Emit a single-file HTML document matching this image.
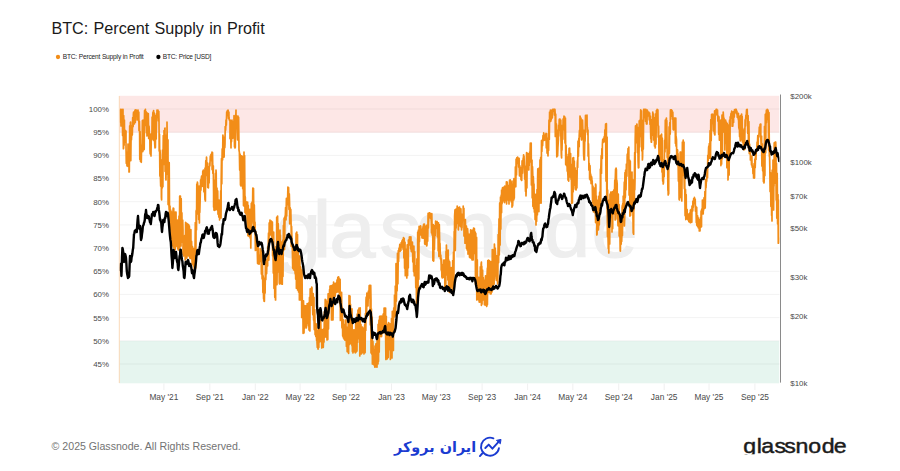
<!DOCTYPE html>
<html lang="en"><head><meta charset="utf-8"><title>BTC: Percent Supply in Profit</title>
<style>
html,body{margin:0;padding:0;background:#fff;}
body{width:900px;height:471px;position:relative;overflow:hidden;font-family:"Liberation Sans",sans-serif;}
svg{position:absolute;left:0;top:0;}
.ib{position:absolute;left:376.2px;top:432px;width:100px;text-align:right;font-family:"DejaVu Sans","Liberation Sans",sans-serif;font-weight:bold;font-size:14.4px;color:#1a3bd1;white-space:nowrap;line-height:30px;height:30px;direction:rtl;}
</style></head><body>
<svg width="900" height="471" viewBox="0 0 900 471" font-family="Liberation Sans, sans-serif">
<rect x="119" y="95.8" width="660.2" height="36.8" fill="#fde7e6"/>
<rect x="119" y="341" width="660.2" height="42.3" fill="#e6f5ef"/>
<g stroke="#000" stroke-opacity="0.06" stroke-width="0.9"><line x1="119" x2="779.5" y1="364.0" y2="364.0"/><line x1="119" x2="779.5" y1="340.8" y2="340.8"/><line x1="119" x2="779.5" y1="317.6" y2="317.6"/><line x1="119" x2="779.5" y1="294.4" y2="294.4"/><line x1="119" x2="779.5" y1="271.3" y2="271.3"/><line x1="119" x2="779.5" y1="248.1" y2="248.1"/><line x1="119" x2="779.5" y1="224.9" y2="224.9"/><line x1="119" x2="779.5" y1="201.7" y2="201.7"/><line x1="119" x2="779.5" y1="178.5" y2="178.5"/><line x1="119" x2="779.5" y1="155.4" y2="155.4"/><line x1="119" x2="779.5" y1="132.2" y2="132.2"/><line x1="119" x2="779.5" y1="109.0" y2="109.0"/></g>
<text transform="scale(1.04,1)" x="264.2 300.7 316.7 365.0 400.3 433.7 474.7 523.0 568.8" y="256.6" font-size="80" fill="#eeeeee" stroke="#eeeeee" stroke-width="1.2">glassnode</text>
<clipPath id="c"><rect x="119" y="96" width="660.4" height="287"/></clipPath>
<g clip-path="url(#c)" fill="none" stroke-linejoin="round" stroke-linecap="round">
<path d="M120.0 111.0 L120.0 110.0 L120.4 122.2 L120.7 109.3 L121.0 126.0 L121.1 126.0 L121.5 109.6 L121.6 112.0 L121.9 125.3 L122.2 109.5 L122.4 110.0 L122.6 135.5 L123.0 109.4 L123.0 118.0 L123.4 148.7 L123.6 148.0 L123.7 115.7 L124.1 145.3 L124.4 120.0 L124.5 131.0 L124.8 141.5 L125.0 130.0 L125.2 134.7 L125.6 142.3 L126.0 131.0 L126.0 146.0 L126.3 163.3 L126.7 152.1 L127.0 166.0 L127.1 154.1 L127.5 152.3 L127.8 166.3 L128.0 144.0 L128.2 148.7 L128.6 158.0 L129.0 162.0 L129.0 172.0 L129.3 171.9 L129.7 125.8 L130.0 160.0 L130.1 158.8 L130.4 122.6 L130.6 122.0 L130.8 160.6 L131.2 125.5 L131.4 140.0 L131.6 135.4 L131.9 125.8 L132.3 135.1 L132.4 130.0 L132.7 117.6 L133.1 126.7 L133.4 114.1 L133.6 112.0 L133.8 123.8 L134.2 116.6 L134.4 124.0 L134.5 120.0 L134.9 110.8 L135.2 110.0 L135.3 122.5 L135.7 110.2 L136.0 116.0 L136.4 110.0 L136.4 111.9 L136.8 114.2 L137.2 111.2 L137.2 120.0 L137.5 117.5 L137.9 110.4 L138.0 110.0 L138.3 114.5 L138.7 121.1 L138.8 112.0 L139.0 130.5 L139.4 121.3 L139.6 130.0 L139.8 159.3 L140.1 131.5 L140.4 158.0 L140.5 161.4 L140.9 145.1 L141.2 162.0 L141.3 162.3 L141.6 145.6 L142.0 152.0 L142.0 150.5 L142.4 120.5 L142.8 151.5 L143.0 120.0 L143.1 126.4 L143.5 149.7 L143.6 150.0 L143.9 130.7 L144.2 149.3 L144.4 120.0 L144.6 110.5 L145.0 125.4 L145.2 110.0 L145.4 109.3 L145.7 123.7 L146.0 112.0 L146.1 111.8 L146.5 133.0 L146.9 112.5 L147.0 136.0 L147.2 134.0 L147.6 120.1 L148.0 133.7 L148.0 114.0 L148.3 113.6 L148.7 138.5 L149.0 126.0 L149.1 127.0 L149.5 136.0 L149.8 134.4 L150.0 150.0 L150.2 153.9 L150.6 152.6 L151.0 155.0 L151.0 156.0 L151.3 133.7 L151.7 140.2 L152.0 130.0 L152.1 117.1 L152.5 139.1 L152.8 113.8 L153.0 112.0 L153.2 124.6 L153.6 110.5 L153.9 140.5 L154.0 114.0 L154.3 113.1 L154.7 143.8 L155.0 148.0 L155.1 140.1 L155.4 147.6 L155.8 115.3 L156.0 120.0 L156.2 139.1 L156.6 113.7 L156.9 117.0 L157.0 110.0 L157.3 110.4 L157.7 115.3 L158.0 111.0 L158.0 110.2 L158.4 120.9 L158.8 111.3 L159.0 120.0 L159.2 151.1 L159.5 134.2 L159.9 176.0 L160.0 150.0 L160.3 154.5 L160.4 176.0 L160.7 186.2 L161.0 166.9 L161.2 160.0 L161.4 197.5 L161.6 200.0 L161.8 162.4 L162.0 188.0 L162.1 188.0 L162.5 150.2 L162.9 186.6 L163.0 160.0 L163.3 135.5 L163.6 164.5 L164.0 136.0 L164.0 130.6 L164.4 140.2 L164.8 128.6 L165.0 128.0 L165.1 171.3 L165.5 137.5 L165.9 179.6 L166.0 180.0 L166.3 135.2 L166.6 174.2 L167.0 132.2 L167.0 122.0 L167.4 154.2 L167.7 139.7 L168.0 140.0 L168.1 204.5 L168.5 162.2 L168.6 180.0 L168.7 190.0 L168.9 204.3 L169.2 210.0 L169.2 162.5 L169.6 224.9 L170.0 206.3 L170.0 206.0 L170.4 227.7 L170.4 230.0 L170.7 210.0 L171.1 242.3 L171.5 214.4 L171.6 212.0 L171.8 244.0 L172.0 246.0 L172.2 212.0 L172.6 239.1 L173.0 210.8 L173.2 208.0 L173.3 240.3 L173.6 248.0 L173.7 208.4 L174.1 239.5 L174.4 216.0 L174.5 233.1 L174.8 247.1 L175.2 250.0 L175.2 212.1 L175.6 222.9 L176.0 222.6 L176.0 212.0 L176.3 245.8 L176.7 226.7 L176.8 246.0 L177.1 246.6 L177.4 225.7 L177.6 220.0 L177.8 248.7 L178.2 229.2 L178.4 250.0 L178.6 231.5 L178.9 221.1 L179.0 216.0 L179.3 246.8 L179.7 196.2 L179.8 248.0 L180.1 219.6 L180.4 196.0 L180.4 196.2 L180.8 231.9 L181.0 246.0 L181.2 198.6 L181.5 242.2 L181.6 214.0 L181.9 212.8 L182.2 238.0 L182.3 236.3 L182.7 220.0 L183.0 230.0 L183.0 254.1 L183.4 237.6 L183.6 256.0 L183.8 254.6 L184.2 235.8 L184.4 236.0 L184.5 254.0 L184.9 235.3 L185.2 260.0 L185.3 256.0 L185.6 222.3 L186.0 223.0 L186.0 248.8 L186.4 237.8 L186.8 258.1 L186.8 258.0 L187.1 223.7 L187.5 251.4 L187.6 224.0 L187.9 229.4 L188.3 251.5 L188.4 256.0 L188.6 224.7 L189.0 226.0 L189.0 255.3 L189.4 226.2 L189.8 252.8 L189.8 258.0 L190.1 232.4 L190.4 230.0 L190.5 258.5 L190.9 229.7 L191.0 256.0 L191.2 244.9 L191.6 242.0 L191.6 241.4 L192.0 259.8 L192.2 264.0 L192.4 246.3 L192.7 264.5 L193.0 248.0 L193.1 253.8 L193.5 266.0 L193.6 266.0 L193.9 258.4 L194.2 268.7 L194.4 258.0 L194.6 248.4 L194.8 270.0 L195.0 253.8 L195.3 222.5 L195.6 230.0 L195.7 267.9 L196.0 240.0 L196.1 211.1 L196.4 210.0 L196.5 229.8 L196.8 184.0 L197.2 190.0 L197.2 213.8 L197.4 182.0 L197.6 183.4 L198.0 192.3 L198.3 190.8 L198.4 188.0 L198.7 219.4 L199.0 190.0 L199.1 186.2 L199.4 223.0 L199.4 197.3 L199.8 190.0 L199.8 212.6 L200.2 197.7 L200.4 190.0 L200.6 179.9 L200.9 190.3 L201.3 178.7 L201.6 176.0 L201.7 184.9 L202.1 176.7 L202.4 186.0 L202.4 186.3 L202.8 171.0 L203.2 176.6 L203.4 170.0 L203.6 171.4 L203.9 191.7 L204.3 181.7 L204.4 188.0 L204.7 192.6 L205.0 200.0 L205.0 168.1 L205.4 201.0 L205.6 168.0 L205.8 160.7 L206.2 169.8 L206.5 157.1 L206.6 158.0 L206.9 175.5 L207.3 162.8 L207.6 180.0 L207.7 187.3 L208.0 174.9 L208.4 188.0 L208.4 187.4 L208.8 166.6 L209.1 182.9 L209.4 164.0 L209.5 163.0 L209.9 166.0 L210.3 156.2 L210.4 158.0 L210.6 160.8 L211.0 154.3 L211.4 156.8 L211.4 154.0 L211.8 154.4 L212.0 152.0 L212.1 169.6 L212.5 152.6 L212.8 170.0 L212.9 173.5 L213.3 165.8 L213.6 194.0 L213.6 207.0 L214.0 188.2 L214.0 210.0 L214.4 210.3 L214.7 192.6 L214.8 180.0 L215.1 198.1 L215.5 173.4 L215.5 210.0 L215.9 209.0 L216.0 170.0 L216.2 173.0 L216.5 205.0 L216.6 204.4 L217.0 188.9 L217.0 188.0 L217.4 209.9 L217.7 190.9 L218.0 214.0 L218.1 214.2 L218.5 201.8 L218.8 216.9 L219.0 200.0 L219.2 200.2 L219.6 209.4 L219.6 220.0 L220.0 207.2 L220.3 215.4 L220.5 205.0 L220.7 190.9 L221.0 218.0 L221.1 207.4 L221.2 180.0 L221.5 158.6 L221.8 183.7 L222.0 160.0 L222.2 148.9 L222.6 160.0 L222.9 135.2 L223.0 136.0 L223.3 155.4 L223.7 137.0 L224.0 156.0 L224.1 157.1 L224.4 141.4 L224.8 147.7 L225.0 144.0 L225.2 126.6 L225.6 130.2 L225.9 124.1 L226.0 120.0 L226.3 125.2 L226.7 112.1 L227.0 112.0 L227.1 115.4 L227.4 110.6 L227.8 114.1 L228.0 110.0 L228.2 111.0 L228.5 118.5 L228.9 112.0 L229.0 118.0 L229.3 119.9 L229.7 120.5 L230.0 120.0 L230.0 138.6 L230.4 120.4 L230.8 137.2 L231.0 148.0 L231.2 127.6 L231.5 141.8 L231.9 133.8 L232.0 120.0 L232.3 133.8 L232.6 121.5 L233.0 138.0 L233.0 138.1 L233.4 123.6 L233.8 136.6 L234.0 116.0 L234.1 115.5 L234.5 146.7 L234.9 124.6 L235.0 148.0 L235.3 147.2 L235.6 123.0 L236.0 110.0 L236.0 128.1 L236.4 117.5 L236.7 123.4 L237.0 116.0 L237.1 123.6 L237.5 138.6 L237.6 140.0 L237.9 122.9 L238.0 116.0 L238.2 139.6 L238.6 117.3 L239.0 149.4 L239.0 150.0 L239.4 152.4 L239.7 170.0 L240.0 160.0 L240.1 154.0 L240.5 185.1 L240.9 165.3 L241.0 186.0 L241.2 185.8 L241.6 155.9 L242.0 181.6 L242.0 156.0 L242.3 156.6 L242.7 188.6 L243.0 188.0 L243.1 161.0 L243.5 205.6 L243.8 177.2 L244.0 152.0 L244.1 200.0 L244.1 206.0 L244.2 193.3 L244.6 155.7 L245.0 212.4 L245.0 196.0 L245.3 197.1 L245.7 212.6 L246.0 214.0 L246.1 201.5 L246.4 209.9 L246.8 206.4 L247.2 224.7 L247.6 206.6 L247.6 202.0 L247.9 235.4 L248.3 205.4 L248.4 236.0 L248.7 224.9 L249.1 225.6 L249.4 236.7 L249.6 210.0 L249.8 209.4 L250.2 237.9 L250.6 220.6 L250.8 248.0 L250.9 238.8 L251.3 203.4 L251.7 232.4 L252.0 202.0 L252.0 223.8 L252.4 218.3 L252.8 188.2 L253.2 212.5 L253.2 189.0 L253.5 188.5 L253.9 226.7 L254.0 210.0 L254.3 204.9 L254.7 228.2 L255.0 230.0 L255.0 222.2 L255.4 250.4 L255.8 231.5 L256.0 250.0 L256.1 241.7 L256.5 239.3 L256.9 250.4 L257.2 240.0 L257.3 251.8 L257.6 263.5 L258.0 241.6 L258.4 263.9 L258.4 264.0 L258.8 260.4 L259.1 264.2 L259.5 255.1 L259.6 256.0 L259.9 261.5 L260.2 248.5 L260.6 258.4 L261.0 251.3 L261.0 250.0 L261.4 273.9 L261.7 251.5 L262.0 270.0 L262.1 278.7 L262.5 264.8 L262.9 292.5 L263.2 284.0 L263.2 275.9 L263.6 298.8 L264.0 288.0 L264.0 301.0 L264.4 301.3 L264.7 278.2 L265.0 284.0 L265.1 293.0 L265.5 259.1 L265.8 279.7 L266.2 263.7 L266.4 260.0 L266.6 273.8 L267.0 260.9 L267.3 260.7 L267.6 266.0 L267.7 246.8 L268.1 255.7 L268.5 233.0 L268.8 260.1 L269.0 240.0 L269.2 222.9 L269.6 235.7 L269.9 223.5 L270.0 220.0 L270.3 234.7 L270.7 222.5 L271.1 229.3 L271.2 230.0 L271.4 221.2 L271.8 237.2 L272.2 230.4 L272.4 222.0 L272.6 255.7 L272.9 236.9 L273.3 273.0 L273.6 266.0 L273.7 232.2 L274.0 288.3 L274.4 258.5 L274.8 297.3 L274.8 284.0 L275.2 277.1 L275.5 300.0 L275.6 300.0 L275.9 246.6 L276.3 283.8 L276.4 270.0 L276.7 217.3 L277.0 284.6 L277.4 247.9 L277.6 216.0 L277.8 246.0 L278.2 223.7 L278.4 250.0 L278.5 271.8 L278.9 255.5 L279.3 283.1 L279.6 284.0 L279.6 253.4 L280.0 230.0 L280.0 283.5 L280.4 235.0 L280.6 270.0 L280.8 270.0 L281.1 246.7 L281.2 242.0 L281.5 284.0 L281.9 241.8 L282.0 284.0 L282.3 284.2 L282.6 243.3 L282.8 240.0 L283.0 276.3 L283.4 225.4 L283.6 250.0 L283.7 236.2 L284.0 222.0 L284.1 218.2 L284.5 249.4 L284.9 224.5 L285.0 216.0 L285.2 220.2 L285.6 207.6 L286.0 211.7 L286.0 220.0 L286.4 198.4 L286.7 216.0 L287.0 202.0 L287.1 198.8 L287.5 204.8 L287.9 187.0 L288.0 188.0 L288.2 196.6 L288.6 187.7 L288.8 200.0 L289.0 209.6 L289.3 193.9 L289.6 204.0 L289.7 223.8 L290.1 207.7 L290.4 220.0 L290.5 223.8 L290.8 209.4 L291.2 230.0 L291.2 246.2 L291.6 226.4 L292.0 242.0 L292.0 246.0 L292.3 245.9 L292.7 268.2 L292.8 252.0 L293.1 245.2 L293.4 262.6 L293.6 270.0 L293.8 250.2 L294.2 261.9 L294.4 250.0 L294.6 260.6 L294.9 269.9 L295.2 274.0 L295.3 259.0 L295.7 279.1 L296.0 240.0 L296.1 233.0 L296.4 282.0 L296.4 288.2 L296.8 232.0 L296.8 266.5 L297.2 265.0 L297.5 234.5 L297.6 290.0 L297.9 252.8 L298.2 250.0 L298.3 257.4 L298.6 292.0 L298.7 287.7 L299.0 270.1 L299.2 256.0 L299.4 300.0 L299.8 256.1 L300.0 300.0 L300.2 300.0 L300.5 266.5 L300.8 270.0 L300.9 280.0 L301.3 291.7 L301.6 292.0 L301.7 317.5 L302.0 284.0 L302.0 270.2 L302.4 311.8 L302.4 310.0 L302.8 300.9 L303.1 333.3 L303.5 300.8 L303.9 331.2 L304.0 333.0 L304.3 316.0 L304.6 328.5 L305.0 305.6 L305.2 306.0 L305.4 320.1 L305.8 307.5 L306.1 318.9 L306.4 328.0 L306.5 305.7 L306.9 320.1 L307.2 303.5 L307.6 304.0 L307.6 323.5 L308.0 314.2 L308.4 326.0 L308.7 302.9 L309.0 330.0 L309.1 323.1 L309.5 297.4 L309.9 331.0 L310.0 306.0 L310.2 288.8 L310.6 290.7 L311.0 297.8 L311.0 290.0 L311.3 305.2 L311.7 287.0 L312.0 288.0 L312.1 305.3 L312.5 303.8 L312.8 314.8 L313.0 300.0 L313.2 293.7 L313.6 319.9 L314.0 297.3 L314.0 320.0 L314.3 329.7 L314.7 309.6 L315.0 322.0 L315.1 334.6 L315.5 325.0 L315.8 336.6 L316.0 336.0 L316.2 323.9 L316.6 340.4 L316.9 332.2 L317.0 342.0 L317.3 347.4 L317.7 330.6 L318.0 349.0 L318.1 349.1 L318.4 326.1 L318.8 347.4 L319.0 330.0 L319.2 323.6 L319.6 342.0 L319.9 319.8 L320.0 320.0 L320.3 336.9 L320.7 320.1 L321.0 332.0 L321.0 341.5 L321.4 332.6 L321.8 348.1 L322.0 340.0 L322.2 329.7 L322.5 343.4 L322.9 334.4 L323.0 347.0 L323.3 347.3 L323.7 328.8 L324.0 330.0 L324.0 341.9 L324.4 311.5 L324.8 337.3 L325.0 324.0 L325.2 299.4 L325.5 330.2 L325.9 300.2 L326.0 300.0 L326.3 336.9 L326.6 301.5 L327.0 340.0 L327.0 330.9 L327.4 311.2 L327.8 339.5 L328.0 306.0 L328.1 293.8 L328.5 329.1 L328.9 293.7 L329.0 296.0 L329.3 305.0 L329.6 289.6 L330.0 302.4 L330.0 286.0 L330.4 296.4 L330.7 300.9 L331.0 300.0 L331.1 285.6 L331.5 320.0 L331.9 285.9 L332.0 320.0 L332.2 312.2 L332.6 286.0 L332.6 285.1 L333.0 320.0 L333.4 292.2 L333.6 282.0 L333.7 295.1 L334.1 285.1 L334.4 296.0 L334.5 294.4 L334.8 283.7 L335.2 296.3 L335.6 286.5 L335.6 290.0 L336.0 292.7 L336.3 282.7 L336.7 292.1 L337.0 280.0 L337.1 279.9 L337.5 286.5 L337.8 277.3 L338.0 292.0 L338.2 290.7 L338.6 276.9 L339.0 287.5 L339.0 278.0 L339.3 287.2 L339.7 303.6 L340.0 284.0 L340.1 279.3 L340.4 320.4 L340.8 317.0 L341.0 306.0 L341.2 320.0 L341.6 292.4 L341.9 326.3 L342.0 328.0 L342.3 307.6 L342.7 336.0 L343.0 320.0 L343.1 319.5 L343.4 337.8 L343.8 324.4 L344.0 336.0 L344.2 339.3 L344.5 326.6 L344.9 340.1 L345.0 340.0 L345.3 320.1 L345.7 326.2 L346.0 320.0 L346.0 327.2 L346.4 346.5 L346.8 335.3 L347.0 342.0 L347.2 351.7 L347.5 327.1 L347.9 335.1 L348.0 352.0 L348.3 316.5 L348.6 353.3 L349.0 310.0 L349.0 295.5 L349.4 344.4 L349.8 300.6 L350.0 296.0 L350.1 328.6 L350.5 304.3 L350.9 343.7 L351.0 316.0 L351.3 331.8 L351.6 339.0 L352.0 346.0 L352.0 308.9 L352.4 351.5 L352.8 330.7 L353.0 353.0 L353.1 351.1 L353.5 330.1 L353.9 339.7 L354.0 330.0 L354.2 329.8 L354.6 351.6 L355.0 332.7 L355.0 352.0 L355.4 352.8 L355.7 325.0 L356.0 320.0 L356.1 351.9 L356.5 319.9 L356.9 351.1 L357.0 350.0 L357.2 314.0 L357.6 342.4 L358.0 310.0 L358.0 316.0 L358.3 334.9 L358.7 316.9 L359.0 308.0 L359.1 338.7 L359.5 309.3 L359.8 355.9 L360.0 330.0 L360.2 307.9 L360.6 343.1 L361.0 324.6 L361.0 354.0 L361.3 353.9 L361.7 338.4 L362.0 346.0 L362.1 353.1 L362.5 327.1 L362.8 351.9 L363.0 328.0 L363.2 348.3 L363.6 352.4 L363.9 329.9 L364.0 354.0 L364.3 337.7 L364.7 324.6 L365.0 332.0 L365.1 352.6 L365.4 313.7 L365.8 330.5 L366.0 300.0 L366.2 297.0 L366.6 316.1 L366.9 293.0 L367.0 294.0 L367.3 304.6 L367.7 296.2 L368.0 306.0 L368.0 304.7 L368.4 291.2 L368.8 297.9 L369.0 292.0 L369.2 285.5 L369.5 294.7 L369.9 285.3 L370.0 286.0 L370.3 324.8 L370.7 285.3 L371.0 300.0 L371.0 352.8 L371.4 308.9 L371.6 336.0 L371.8 354.1 L372.1 317.2 L372.4 364.0 L372.5 341.2 L372.9 341.3 L373.2 350.0 L373.3 364.3 L373.6 350.2 L374.0 365.0 L374.0 357.0 L374.4 349.9 L374.8 367.2 L375.0 346.0 L375.1 347.2 L375.5 364.4 L375.9 343.9 L376.0 367.0 L376.3 356.9 L376.6 363.6 L377.0 367.2 L377.0 344.0 L377.4 336.6 L377.7 354.5 L378.0 364.0 L378.1 324.4 L378.5 361.2 L378.9 323.0 L379.0 320.0 L379.2 351.9 L379.6 316.4 L380.0 330.0 L380.0 326.0 L380.0 326.0 L380.4 320.3 L380.7 336.4 L380.8 316.0 L381.1 322.3 L381.5 336.6 L381.6 336.0 L381.8 316.2 L382.2 326.5 L382.4 318.0 L382.6 316.9 L383.0 333.0 L383.2 314.0 L383.3 316.6 L383.7 330.0 L384.0 330.0 L384.1 308.0 L384.5 332.5 L384.8 308.0 L384.8 311.0 L385.2 329.4 L385.6 308.0 L385.6 332.0 L385.9 359.5 L386.3 316.3 L386.4 350.0 L386.7 358.0 L387.1 344.6 L387.2 359.0 L387.4 352.7 L387.8 340.2 L388.0 324.0 L388.2 357.5 L388.6 322.6 L388.8 323.0 L388.9 348.1 L389.3 327.2 L389.6 338.0 L389.7 349.7 L390.1 323.8 L390.4 359.0 L390.4 359.5 L390.8 339.3 L391.2 344.3 L391.2 346.0 L391.5 318.6 L391.9 358.0 L392.0 358.0 L392.3 311.3 L392.7 344.7 L392.8 320.0 L393.0 311.9 L393.4 350.4 L393.6 312.0 L393.8 307.9 L394.2 317.1 L394.4 316.0 L394.5 295.0 L394.9 316.3 L395.2 306.0 L395.3 286.0 L395.6 315.3 L396.0 290.0 L396.0 263.7 L396.4 301.0 L396.8 269.2 L396.8 280.0 L396.9 284.0 L396.9 270.0 L397.1 290.7 L397.5 253.3 L397.6 258.0 L397.9 283.7 L398.3 250.7 L398.6 261.6 L398.8 252.0 L399.0 248.2 L399.4 250.6 L399.8 244.3 L400.0 248.0 L400.1 251.3 L400.5 248.2 L400.9 250.5 L401.2 244.0 L401.2 242.6 L401.6 246.9 L402.0 240.8 L402.4 243.9 L402.4 241.0 L402.7 239.6 L403.1 249.3 L403.5 237.6 L403.6 238.0 L403.9 257.8 L404.2 238.3 L404.4 250.0 L404.6 268.1 L405.0 242.1 L405.3 275.7 L405.6 266.0 L405.7 250.9 L406.1 273.0 L406.5 249.0 L406.8 278.0 L406.8 273.4 L407.2 244.9 L407.6 275.5 L407.6 250.0 L408.0 245.9 L408.3 267.7 L408.4 240.0 L408.7 241.8 L409.1 244.9 L409.4 237.1 L409.6 237.0 L409.8 241.0 L410.2 238.0 L410.6 248.9 L410.8 238.0 L410.9 236.9 L411.3 251.6 L411.7 242.3 L412.0 250.0 L412.1 250.7 L412.4 242.0 L412.8 262.0 L413.2 254.6 L413.2 246.0 L413.6 271.6 L413.9 246.2 L414.3 275.7 L414.4 270.0 L414.7 251.7 L415.0 273.9 L415.4 265.6 L415.6 276.0 L415.8 287.6 L416.2 272.5 L416.5 303.3 L416.8 280.0 L416.9 258.8 L417.2 294.0 L417.3 291.7 L417.4 302.0 L417.6 290.0 L417.7 232.1 L418.0 266.0 L418.0 295.1 L418.4 230.0 L418.4 261.6 L418.8 279.3 L419.1 226.4 L419.5 241.6 L419.6 228.0 L419.9 226.8 L420.3 233.4 L420.6 225.9 L420.8 227.0 L421.0 235.0 L421.4 229.2 L421.8 234.0 L422.0 238.0 L422.1 230.0 L422.5 237.6 L422.9 228.2 L423.2 226.0 L423.2 238.2 L423.6 224.4 L424.0 232.8 L424.4 233.7 L424.4 224.0 L424.7 243.9 L425.1 226.2 L425.5 244.4 L425.6 242.0 L425.9 226.9 L426.2 243.5 L426.6 225.3 L426.8 246.0 L427.0 244.5 L427.4 225.1 L427.7 241.2 L428.0 220.0 L428.1 213.4 L428.5 227.9 L428.8 213.7 L429.2 213.0 L429.2 217.9 L429.6 212.8 L430.0 216.0 L430.3 213.4 L430.4 214.0 L430.7 218.8 L431.1 214.0 L431.5 233.0 L431.6 216.0 L431.8 213.5 L432.2 234.9 L432.6 224.7 L432.8 236.0 L432.9 260.4 L433.3 224.6 L433.6 260.0 L433.7 261.1 L434.1 225.5 L434.4 230.0 L434.4 249.5 L434.8 229.6 L435.2 235.8 L435.6 221.0 L435.6 223.0 L435.9 228.3 L436.3 222.7 L436.7 224.3 L436.8 222.0 L437.1 221.5 L437.4 237.0 L437.8 235.3 L438.0 224.0 L438.2 250.8 L438.5 222.9 L438.9 256.5 L439.2 254.0 L439.3 224.6 L439.7 244.0 L440.0 256.0 L440.0 243.4 L440.4 259.1 L440.8 255.2 L441.2 265.3 L441.2 270.0 L441.5 258.9 L441.9 277.2 L442.3 265.3 L442.4 278.0 L442.6 273.5 L443.0 264.5 L443.4 277.4 L443.6 264.0 L443.8 260.1 L444.1 271.2 L444.5 262.9 L444.8 260.0 L444.9 287.7 L445.3 268.9 L445.6 276.0 L445.6 279.0 L445.8 288.0 L446.0 251.6 L446.4 274.9 L446.4 245.0 L446.7 255.2 L447.1 259.8 L447.5 257.8 L447.6 256.0 L447.9 279.9 L448.2 250.0 L448.6 286.5 L448.8 260.0 L449.0 269.0 L449.2 286.0 L449.4 292.5 L449.7 261.8 L450.0 278.0 L450.1 275.6 L450.2 292.0 L450.5 273.9 L450.9 284.7 L451.2 268.0 L451.2 267.7 L451.6 287.0 L452.0 272.2 L452.3 288.8 L452.4 282.0 L452.6 294.0 L452.7 260.7 L453.1 281.4 L453.5 252.0 L453.6 270.0 L453.8 290.5 L454.2 231.5 L454.4 250.0 L454.6 216.0 L455.0 209.8 L455.2 220.0 L455.3 250.5 L455.7 223.5 L456.0 209.0 L456.1 228.1 L456.4 209.6 L456.8 223.5 L457.2 206.1 L457.2 208.0 L457.6 222.0 L457.9 210.3 L458.3 229.1 L458.4 230.0 L458.7 207.7 L459.1 225.8 L459.4 208.1 L459.6 207.0 L459.8 218.4 L460.2 209.6 L460.5 226.6 L460.9 208.8 L461.0 214.0 L461.3 222.0 L461.6 230.0 L461.7 214.5 L462.0 228.0 L462.4 214.0 L462.4 214.1 L462.8 215.5 L463.2 219.7 L463.2 206.0 L463.5 215.1 L463.9 208.3 L464.0 236.0 L464.3 230.1 L464.7 235.5 L464.8 220.0 L465.0 243.2 L465.4 219.6 L465.6 242.0 L465.8 240.6 L466.1 236.1 L466.4 226.0 L466.5 248.3 L466.9 229.9 L467.2 250.0 L467.3 249.9 L467.6 228.7 L468.0 234.0 L468.0 254.1 L468.4 236.0 L468.8 253.9 L468.8 254.0 L469.1 234.3 L469.5 257.2 L469.6 242.0 L469.9 234.0 L470.2 241.7 L470.4 258.0 L470.6 229.9 L471.0 257.2 L471.2 230.0 L471.4 242.5 L471.7 254.9 L472.0 260.0 L472.1 243.7 L472.5 258.5 L472.8 242.0 L472.9 229.8 L473.2 259.9 L473.6 228.0 L473.6 230.4 L474.0 245.9 L474.4 228.7 L474.4 250.0 L474.7 253.5 L475.1 233.4 L475.2 232.0 L475.5 284.2 L475.8 233.4 L476.0 256.0 L476.2 267.4 L476.4 264.0 L476.6 237.4 L476.8 300.0 L477.0 299.1 L477.2 272.0 L477.3 259.8 L477.6 296.0 L477.7 294.6 L478.0 284.0 L478.1 287.5 L478.5 296.7 L478.6 300.0 L478.8 277.3 L479.2 302.0 L479.2 278.0 L479.6 281.6 L479.9 302.2 L480.0 302.0 L480.3 266.8 L480.4 274.0 L480.7 299.5 L481.0 298.0 L481.1 264.1 L481.4 262.0 L481.4 305.3 L481.8 266.3 L482.0 304.0 L482.2 290.5 L482.6 286.8 L482.6 270.0 L482.9 298.6 L483.2 300.0 L483.3 277.5 L483.6 282.0 L483.7 293.8 L484.0 284.1 L484.4 303.0 L484.4 304.6 L484.8 292.0 L485.0 280.0 L485.2 305.1 L485.5 275.8 L485.6 305.0 L485.9 296.0 L486.2 276.0 L486.3 277.0 L486.7 306.4 L486.8 306.0 L487.0 276.0 L487.4 268.0 L487.4 304.6 L487.8 260.6 L488.0 292.0 L488.2 286.1 L488.4 260.0 L488.5 265.7 L488.9 292.4 L489.0 288.0 L489.3 260.5 L489.6 262.0 L489.6 290.4 L490.0 290.0 L490.0 269.4 L490.4 294.0 L490.4 274.0 L490.8 261.5 L491.0 294.0 L491.1 294.0 L491.4 280.0 L491.5 270.2 L491.9 291.4 L492.0 292.0 L492.3 249.6 L492.4 270.0 L492.6 288.1 L493.0 288.0 L493.0 255.7 L493.4 269.6 L493.4 250.0 L493.7 272.9 L494.0 280.0 L494.1 284.2 L494.4 244.0 L494.5 245.7 L494.9 271.8 L495.0 266.0 L495.2 248.1 L495.6 255.0 L495.6 275.9 L496.0 263.0 L496.0 278.0 L496.4 280.4 L496.6 270.0 L496.7 255.9 L496.8 270.0 L497.1 275.9 L497.5 255.9 L497.6 284.0 L497.8 283.4 L498.2 234.5 L498.4 250.0 L498.6 262.6 L499.0 218.9 L499.2 240.0 L499.3 254.8 L499.7 202.9 L500.0 220.0 L500.1 244.9 L500.5 197.0 L500.8 206.0 L500.8 229.1 L501.2 195.0 L501.6 212.6 L501.6 190.0 L501.6 194.0 L502.0 191.4 L502.0 204.0 L502.3 200.8 L502.4 188.0 L502.7 187.7 L503.0 200.0 L503.1 195.9 L503.4 187.9 L503.6 190.0 L503.8 200.8 L504.2 186.7 L504.2 202.0 L504.6 202.6 L504.8 186.0 L504.9 189.0 L505.3 200.6 L505.4 200.0 L505.7 190.1 L506.0 189.0 L506.1 197.3 L506.4 181.8 L506.6 204.0 L506.8 199.1 L507.2 192.6 L507.2 182.0 L507.5 197.2 L507.8 200.0 L507.9 185.3 L508.3 199.7 L508.4 188.0 L508.7 185.5 L509.0 204.0 L509.0 200.5 L509.4 185.5 L509.6 180.0 L509.8 198.9 L510.2 179.9 L510.2 200.0 L510.5 199.3 L510.8 186.0 L510.9 198.6 L511.3 201.9 L511.4 202.0 L511.7 186.7 L512.0 181.0 L512.0 207.1 L512.4 185.0 L512.6 206.0 L512.8 202.0 L513.1 192.5 L513.2 184.0 L513.5 193.7 L513.8 200.0 L513.9 178.7 L514.3 198.0 L514.4 179.0 L514.6 184.4 L515.0 179.6 L515.2 186.0 L515.4 166.9 L515.8 186.8 L516.0 170.0 L516.1 159.2 L516.5 175.0 L516.8 160.0 L516.9 157.6 L517.2 163.4 L517.6 157.0 L517.6 157.9 L518.0 160.8 L518.4 158.2 L518.4 158.0 L518.7 167.1 L519.1 158.3 L519.2 166.0 L519.5 176.0 L519.9 165.9 L520.0 176.0 L520.2 174.3 L520.6 168.2 L520.8 168.0 L521.0 179.4 L521.3 175.8 L521.6 180.0 L521.7 180.5 L522.1 160.9 L522.4 164.0 L522.5 173.2 L522.8 163.2 L523.2 158.0 L523.2 165.2 L523.6 154.9 L524.0 165.8 L524.0 156.0 L524.3 163.9 L524.7 179.2 L524.8 166.0 L525.1 168.6 L525.5 191.3 L525.6 184.0 L525.8 185.6 L526.0 196.0 L526.2 188.9 L526.4 160.0 L526.6 152.6 L526.9 187.8 L527.2 153.0 L527.3 156.8 L527.7 165.2 L528.0 156.0 L528.1 159.6 L528.4 167.9 L528.8 170.0 L528.8 153.5 L529.2 165.7 L529.6 154.7 L529.6 152.0 L529.9 162.1 L530.3 143.2 L530.4 146.0 L530.7 147.8 L531.0 147.5 L531.2 143.0 L531.4 184.9 L531.8 169.1 L532.0 160.0 L532.2 197.7 L532.4 198.0 L532.5 166.7 L532.8 176.0 L532.9 206.3 L533.2 206.0 L533.3 176.6 L533.6 184.0 L533.7 208.5 L534.0 184.0 L534.4 212.0 L534.4 205.4 L534.8 194.2 L534.8 196.0 L535.1 219.4 L535.2 218.0 L535.5 205.1 L535.6 200.0 L535.9 205.7 L536.0 225.0 L536.3 198.7 L536.4 194.0 L536.6 221.4 L536.8 214.0 L537.0 189.5 L537.4 214.7 L537.6 180.0 L537.8 168.8 L538.0 202.0 L538.1 206.5 L538.4 169.0 L538.5 169.7 L538.8 210.0 L538.9 211.7 L539.2 168.0 L539.3 167.8 L539.6 198.0 L539.6 203.2 L540.0 159.9 L540.0 176.0 L540.4 196.7 L540.4 202.0 L540.7 157.3 L540.8 160.0 L541.1 203.1 L541.5 140.7 L541.6 150.0 L541.9 151.5 L542.2 141.1 L542.4 140.0 L542.6 145.6 L543.0 135.5 L543.2 136.0 L543.4 137.6 L543.7 132.9 L544.0 134.0 L544.1 140.5 L544.5 136.0 L544.8 140.0 L544.8 139.6 L545.2 136.2 L545.6 140.2 L545.6 136.0 L546.0 133.4 L546.3 148.0 L546.4 134.0 L546.7 133.6 L547.1 153.2 L547.2 150.0 L547.5 138.2 L547.8 149.9 L548.0 156.0 L548.2 141.6 L548.6 150.6 L548.8 130.0 L549.0 120.0 L549.3 139.5 L549.6 112.0 L549.7 115.9 L550.1 121.4 L550.4 110.0 L550.4 110.0 L550.8 121.3 L551.2 110.7 L551.2 120.0 L551.6 114.1 L551.9 112.0 L552.0 110.0 L552.3 117.9 L552.7 109.3 L552.8 109.3 L553.1 110.1 L553.4 109.3 L553.6 110.0 L553.8 111.2 L554.2 109.3 L554.4 109.3 L554.5 115.1 L554.9 109.3 L555.2 114.0 L555.3 136.5 L555.7 114.2 L556.0 136.0 L556.0 135.5 L556.4 123.9 L556.8 156.8 L556.8 130.0 L557.2 130.0 L557.5 149.1 L557.6 156.0 L557.9 147.8 L558.3 141.3 L558.4 140.0 L558.6 125.4 L559.0 130.2 L559.2 120.0 L559.4 119.2 L559.8 128.1 L560.0 119.0 L560.1 122.9 L560.5 136.2 L560.8 120.0 L560.9 136.8 L561.3 154.6 L561.6 158.0 L561.6 125.3 L562.0 150.2 L562.4 132.0 L562.4 134.0 L562.8 139.3 L563.1 118.9 L563.2 120.0 L563.5 129.6 L563.9 117.7 L564.0 116.0 L564.2 124.4 L564.6 116.5 L564.8 119.0 L565.0 143.0 L565.4 118.1 L565.6 140.0 L565.7 164.4 L566.1 145.4 L566.4 162.0 L566.5 165.7 L566.9 156.9 L567.2 170.0 L567.2 171.1 L567.6 169.8 L568.0 176.6 L568.0 180.0 L568.3 154.3 L568.7 181.1 L568.8 160.0 L569.1 148.3 L569.5 161.5 L569.6 148.0 L569.8 155.1 L570.2 176.9 L570.4 160.0 L570.6 153.6 L571.0 178.0 L571.2 180.0 L571.3 164.4 L571.7 203.3 L572.0 188.0 L572.1 187.8 L572.2 203.0 L572.4 188.0 L572.4 203.0 L572.8 170.0 L572.8 158.1 L573.2 191.7 L573.6 157.5 L573.6 158.0 L573.9 171.9 L574.3 161.1 L574.4 170.0 L574.7 185.2 L575.1 167.8 L575.2 188.0 L575.4 189.4 L575.8 182.1 L576.0 190.0 L576.2 189.0 L576.6 170.6 L576.8 180.0 L576.9 187.9 L577.3 163.0 L577.6 160.0 L577.7 167.5 L578.0 141.2 L578.4 150.0 L578.4 156.2 L578.8 138.4 L579.2 146.8 L579.2 136.0 L579.5 130.3 L579.9 136.5 L580.0 116.0 L580.3 117.4 L580.7 129.0 L580.8 124.0 L581.0 118.2 L581.4 139.3 L581.6 140.0 L581.8 122.5 L582.1 138.8 L582.4 120.0 L582.5 120.2 L582.9 131.7 L583.2 136.0 L583.3 130.2 L583.6 153.9 L584.0 160.0 L584.0 134.6 L584.4 159.9 L584.8 136.5 L584.8 130.0 L585.1 141.2 L585.5 115.4 L585.6 117.0 L585.9 125.3 L586.3 120.5 L586.4 116.0 L586.6 125.5 L587.0 115.0 L587.2 132.0 L587.4 127.4 L587.7 135.0 L588.0 130.0 L588.1 156.0 L588.5 143.8 L588.8 160.0 L588.9 170.1 L589.2 163.3 L589.6 168.0 L589.6 178.9 L590.0 165.7 L590.4 177.8 L590.4 180.0 L590.7 174.2 L591.1 183.6 L591.2 176.0 L591.5 176.7 L591.8 178.2 L592.0 184.0 L592.2 180.8 L592.6 202.6 L592.8 186.0 L592.8 202.0 L592.9 186.0 L593.0 186.5 L593.3 210.0 L593.6 212.0 L593.7 190.4 L594.1 207.2 L594.4 188.0 L594.5 191.8 L594.8 202.5 L595.2 214.0 L595.2 192.9 L595.6 222.6 L595.6 184.0 L595.9 185.4 L596.0 222.0 L596.3 196.8 L596.4 196.0 L596.7 207.4 L596.8 235.0 L597.1 234.2 L597.2 205.0 L597.4 202.5 L597.6 220.0 L597.8 225.3 L598.0 200.0 L598.2 216.8 L598.4 230.0 L598.6 225.8 L598.8 200.0 L598.9 196.0 L599.2 216.0 L599.3 224.7 L599.6 194.0 L599.7 192.2 L600.0 210.0 L600.1 198.9 L600.4 184.0 L600.4 169.2 L600.8 208.5 L600.8 170.0 L601.2 155.7 L601.5 173.2 L601.6 160.0 L601.9 148.6 L602.3 158.6 L602.4 144.0 L602.7 139.6 L603.0 142.8 L603.2 140.0 L603.4 138.3 L603.8 140.9 L604.0 142.0 L604.2 136.7 L604.5 140.5 L604.8 132.0 L604.9 129.9 L605.3 134.7 L605.6 124.0 L605.6 128.2 L606.0 181.1 L606.4 123.7 L606.4 140.0 L606.8 198.2 L606.8 175.0 L607.1 137.0 L607.2 210.0 L607.5 236.6 L607.6 190.0 L607.9 208.9 L608.0 236.0 L608.3 248.8 L608.4 200.0 L608.6 207.7 L608.8 253.0 L609.0 216.3 L609.2 215.0 L609.4 205.0 L609.6 220.0 L609.7 244.0 L610.0 194.0 L610.1 197.0 L610.4 196.0 L610.5 217.4 L610.8 192.0 L610.9 194.6 L611.2 212.0 L611.2 215.7 L611.6 196.0 L611.6 212.5 L612.0 198.5 L612.0 232.0 L612.4 191.6 L612.4 200.0 L612.7 228.4 L612.8 210.0 L613.1 193.8 L613.2 192.0 L613.5 204.7 L613.6 196.0 L613.9 189.9 L614.0 190.0 L614.2 213.9 L614.4 214.0 L614.6 188.0 L614.8 180.0 L615.0 198.8 L615.2 220.0 L615.3 178.2 L615.6 169.0 L615.7 218.9 L616.0 190.0 L616.1 168.1 L616.4 170.0 L616.5 186.7 L616.8 202.0 L616.8 180.2 L617.2 184.0 L617.2 213.6 L617.6 198.1 L617.6 216.0 L618.0 225.6 L618.0 194.0 L618.3 194.0 L618.4 226.0 L618.7 218.5 L618.8 205.0 L619.1 204.5 L619.2 236.0 L619.4 227.8 L619.6 215.0 L619.8 235.5 L620.0 238.0 L620.2 250.6 L620.4 251.0 L620.6 222.5 L620.8 225.0 L620.9 244.4 L621.2 244.0 L621.3 220.3 L621.7 241.5 L622.0 230.0 L622.1 207.3 L622.4 205.0 L622.4 235.4 L622.8 214.0 L622.8 203.3 L623.2 211.6 L623.2 196.0 L623.6 199.1 L623.6 202.0 L623.9 215.6 L624.0 194.0 L624.3 182.0 L624.4 226.0 L624.7 217.6 L624.8 180.0 L625.0 172.6 L625.2 198.0 L625.4 196.0 L625.6 170.0 L625.8 183.1 L626.0 190.0 L626.2 180.7 L626.4 164.0 L626.5 167.6 L626.9 176.4 L627.2 156.0 L627.3 154.1 L627.7 158.4 L628.0 150.0 L628.0 148.7 L628.4 152.7 L628.8 147.0 L628.8 148.0 L629.1 195.1 L629.5 169.2 L629.6 160.0 L629.9 215.8 L630.0 216.0 L630.3 161.1 L630.4 180.0 L630.6 215.3 L630.8 200.0 L631.0 182.3 L631.2 188.0 L631.4 197.8 L631.6 190.0 L631.8 192.9 L632.0 172.0 L632.1 195.4 L632.4 210.0 L632.5 179.3 L632.8 180.0 L632.9 212.1 L633.2 233.0 L633.2 188.7 L633.6 194.0 L633.6 234.2 L634.0 180.3 L634.0 210.0 L634.4 199.4 L634.4 176.0 L634.7 152.5 L634.8 190.0 L635.1 175.9 L635.2 140.0 L635.5 125.9 L635.9 142.8 L636.0 126.0 L636.2 126.5 L636.6 131.9 L636.8 124.0 L637.0 124.2 L637.4 152.4 L637.6 140.0 L637.7 127.3 L638.1 161.2 L638.4 168.0 L638.5 143.8 L638.8 167.7 L639.2 140.0 L639.2 120.8 L639.6 146.9 L640.0 122.7 L640.0 120.0 L640.3 127.1 L640.7 109.9 L640.8 110.0 L641.1 136.5 L641.5 110.8 L641.6 132.0 L641.8 150.8 L642.2 129.3 L642.4 160.0 L642.6 156.8 L642.9 133.5 L643.2 120.0 L643.3 148.9 L643.7 109.3 L644.0 109.3 L644.1 117.4 L644.4 109.3 L644.8 110.0 L644.8 110.3 L645.2 113.3 L645.6 121.5 L645.6 109.3 L645.9 109.3 L646.3 120.3 L646.4 124.0 L646.7 114.6 L647.0 124.1 L647.2 110.0 L647.4 110.4 L647.8 113.6 L648.0 114.0 L648.2 113.1 L648.5 116.0 L648.8 112.0 L648.9 112.3 L649.3 119.9 L649.6 120.0 L649.7 113.1 L650.0 124.4 L650.4 116.0 L650.4 122.6 L650.8 139.0 L651.2 119.7 L651.2 142.0 L651.5 142.2 L651.9 121.8 L652.0 120.0 L652.3 131.4 L652.6 117.7 L652.8 112.0 L653.0 135.2 L653.4 113.9 L653.6 140.0 L653.8 139.1 L654.1 117.6 L654.4 118.0 L654.5 146.1 L654.9 122.2 L655.2 148.0 L655.3 147.2 L655.6 113.8 L656.0 116.0 L656.0 144.1 L656.4 110.6 L656.7 115.1 L656.8 112.0 L657.1 109.3 L657.5 124.9 L657.6 110.0 L657.9 109.9 L658.2 137.1 L658.4 128.0 L658.6 126.2 L659.0 156.3 L659.2 154.0 L659.4 135.8 L659.7 156.7 L660.0 160.0 L660.1 149.8 L660.5 159.8 L660.8 150.0 L660.9 135.0 L661.2 143.8 L661.6 135.8 L661.6 134.0 L662.0 172.0 L662.3 138.2 L662.4 166.0 L662.7 181.1 L663.1 173.7 L663.2 184.0 L663.5 182.3 L663.8 159.7 L664.0 160.0 L664.2 176.5 L664.6 140.6 L664.8 140.0 L665.0 151.9 L665.3 120.2 L665.6 120.0 L665.7 135.3 L666.1 120.4 L666.4 118.0 L666.4 148.0 L666.8 120.6 L667.2 157.2 L667.2 150.0 L667.6 158.0 L667.9 190.2 L668.0 184.0 L668.2 195.0 L668.3 156.5 L668.7 193.8 L668.8 160.0 L669.1 126.8 L669.4 153.2 L669.6 130.0 L669.8 122.5 L670.2 134.2 L670.4 112.0 L670.5 109.9 L670.9 116.3 L671.2 110.0 L671.3 109.8 L671.7 113.1 L672.0 114.0 L672.0 110.3 L672.4 119.3 L672.8 112.7 L672.8 112.0 L673.2 129.4 L673.5 122.0 L673.6 130.0 L673.9 127.4 L674.3 119.9 L674.4 118.0 L674.7 124.1 L675.0 118.2 L675.2 120.0 L675.4 143.3 L675.8 118.0 L676.0 146.0 L676.1 136.3 L676.5 139.9 L676.8 160.0 L676.9 157.2 L677.3 150.7 L677.6 150.0 L677.6 165.0 L678.0 153.7 L678.4 181.1 L678.4 168.0 L678.8 164.7 L679.1 199.3 L679.2 184.0 L679.4 200.0 L679.5 161.5 L679.9 197.8 L680.0 160.0 L680.2 152.0 L680.6 164.2 L680.8 152.0 L681.0 172.1 L681.4 197.5 L681.6 170.0 L681.7 153.0 L681.8 201.0 L682.1 172.6 L682.4 142.0 L682.5 144.4 L682.9 164.1 L683.2 140.0 L683.2 143.8 L683.6 175.6 L684.0 142.0 L684.0 170.0 L684.3 188.5 L684.7 169.8 L684.8 188.0 L685.1 215.6 L685.5 189.4 L685.6 194.0 L685.6 216.0 L685.7 202.0 L685.8 219.6 L686.2 194.7 L686.4 218.0 L686.6 219.0 L687.0 209.3 L687.2 210.0 L687.3 218.9 L687.7 213.8 L688.0 220.0 L688.1 219.3 L688.5 214.9 L688.8 214.0 L688.8 221.6 L689.2 215.1 L689.6 221.6 L689.6 222.0 L689.9 212.8 L690.3 222.8 L690.4 210.0 L690.7 216.5 L691.1 220.8 L691.2 221.0 L691.4 209.2 L691.8 222.4 L692.0 206.0 L692.2 206.5 L692.6 211.0 L692.8 210.0 L692.9 201.1 L693.3 207.3 L693.6 202.0 L693.7 198.5 L694.0 203.4 L694.4 198.0 L694.4 197.4 L694.8 203.2 L695.2 200.4 L695.2 199.0 L695.5 211.3 L695.9 206.3 L696.0 208.0 L696.3 222.4 L696.7 207.3 L696.8 225.0 L697.0 225.6 L697.4 215.6 L697.6 216.0 L697.8 226.7 L698.2 217.8 L698.4 228.0 L698.5 221.6 L698.9 219.8 L699.2 220.0 L699.3 231.0 L699.6 223.1 L700.0 231.0 L700.0 226.4 L700.4 217.9 L700.8 227.1 L700.8 226.0 L701.1 211.1 L701.5 226.8 L701.6 210.0 L701.9 208.9 L702.3 214.0 L702.4 200.0 L702.6 205.7 L703.0 212.3 L703.2 214.0 L703.4 204.3 L703.7 210.1 L704.0 198.0 L704.1 197.7 L704.5 207.8 L704.8 208.0 L704.9 191.5 L705.2 208.1 L705.6 190.0 L705.6 179.7 L705.6 180.0 L706.0 181.7 L706.0 188.0 L706.4 180.4 L706.7 181.3 L707.1 169.4 L707.2 170.0 L707.5 177.7 L707.8 155.3 L708.0 160.0 L708.2 160.4 L708.6 147.9 L708.8 146.0 L709.0 157.4 L709.3 143.7 L709.6 158.0 L709.7 158.1 L710.1 130.7 L710.4 140.0 L710.5 158.4 L710.8 119.7 L711.2 120.0 L711.2 140.6 L711.6 114.3 L712.0 121.3 L712.0 116.0 L712.3 115.4 L712.7 123.8 L712.8 114.0 L713.1 116.9 L713.4 131.0 L713.6 126.0 L713.8 115.9 L714.2 129.3 L714.4 134.0 L714.6 110.9 L714.9 135.0 L715.2 112.0 L715.3 113.7 L715.7 114.8 L716.0 110.0 L716.1 109.3 L716.4 111.6 L716.8 109.3 L716.8 109.3 L717.2 115.2 L717.5 110.1 L717.6 114.0 L717.9 121.2 L718.3 116.0 L718.4 116.0 L718.7 134.3 L719.0 116.8 L719.2 130.0 L719.4 140.2 L719.8 127.2 L720.0 140.0 L720.2 137.5 L720.5 123.9 L720.8 120.0 L720.9 165.6 L721.3 123.7 L721.6 164.0 L721.6 162.5 L722.0 115.0 L722.4 158.6 L722.4 120.0 L722.8 131.3 L723.1 128.3 L723.2 112.0 L723.5 116.7 L723.9 132.2 L724.0 118.0 L724.3 123.9 L724.6 132.0 L724.8 150.0 L725.0 122.4 L725.4 131.0 L725.6 120.0 L725.8 124.0 L726.1 143.4 L726.4 122.0 L726.5 130.3 L726.9 167.7 L727.2 148.0 L727.2 123.3 L727.6 165.6 L728.0 145.9 L728.0 180.0 L728.4 168.5 L728.7 124.9 L728.8 160.0 L729.1 175.1 L729.5 121.3 L729.6 120.0 L729.9 152.3 L730.2 116.8 L730.4 118.0 L730.6 118.1 L731.0 113.3 L731.2 116.0 L731.3 115.5 L731.7 111.2 L732.0 112.0 L732.1 126.2 L732.5 121.0 L732.8 126.0 L732.8 126.2 L733.2 111.9 L733.6 122.5 L733.6 114.0 L734.0 114.5 L734.3 117.2 L734.4 110.0 L734.7 109.6 L735.1 112.7 L735.2 109.3 L735.5 109.3 L735.8 112.2 L736.0 112.0 L736.2 109.3 L736.6 114.0 L736.8 111.0 L736.9 111.1 L737.3 117.4 L737.6 114.0 L737.7 114.0 L738.1 117.7 L738.4 120.0 L738.4 113.3 L738.8 127.4 L739.2 129.3 L739.2 116.0 L739.6 136.6 L739.9 120.9 L740.0 136.0 L740.3 140.9 L740.7 115.5 L740.8 140.0 L741.0 135.5 L741.4 116.9 L741.6 114.0 L741.8 128.2 L742.2 116.4 L742.4 142.0 L742.5 129.4 L742.9 133.6 L743.2 130.0 L743.3 147.7 L743.7 136.7 L744.0 150.0 L744.0 150.0 L744.4 128.4 L744.8 149.2 L744.8 140.0 L745.1 119.8 L745.5 126.1 L745.6 120.0 L745.9 115.2 L746.3 118.1 L746.4 112.0 L746.6 109.5 L747.0 117.6 L747.2 109.3 L747.4 115.3 L747.8 133.6 L748.0 118.0 L748.1 115.5 L748.5 148.1 L748.8 140.0 L748.9 121.7 L749.3 153.6 L749.6 152.0 L749.6 144.2 L750.0 151.6 L750.4 149.6 L750.4 160.0 L750.7 159.3 L751.1 159.9 L751.2 156.0 L751.5 164.9 L751.9 156.2 L752.0 164.0 L752.2 167.3 L752.6 166.4 L752.8 168.0 L753.0 173.7 L753.4 167.0 L753.6 178.0 L753.7 177.8 L754.1 163.7 L754.4 166.0 L754.5 178.1 L754.8 159.2 L755.2 162.0 L755.2 167.8 L755.6 154.3 L756.0 159.4 L756.0 158.0 L756.3 149.8 L756.7 150.7 L756.8 150.0 L757.1 142.1 L757.5 150.5 L757.6 140.0 L757.8 135.5 L758.2 144.7 L758.4 136.0 L758.6 135.7 L758.9 136.9 L759.2 130.0 L759.3 127.1 L759.7 132.7 L760.0 126.0 L760.1 124.4 L760.4 130.6 L760.8 124.0 L760.8 137.1 L761.2 146.9 L761.6 136.1 L761.6 140.0 L761.9 166.0 L762.3 143.9 L762.4 160.0 L762.7 171.0 L763.1 152.8 L763.2 170.0 L763.4 181.6 L763.8 163.9 L764.0 183.0 L764.2 180.2 L764.5 126.4 L764.8 160.0 L764.9 175.6 L765.3 114.3 L765.6 120.0 L765.7 152.7 L766.0 118.1 L766.4 110.0 L766.4 122.8 L766.8 112.1 L767.2 110.7 L767.2 109.3 L767.5 109.6 L767.9 119.5 L768.0 110.0 L768.3 114.2 L768.6 150.0 L768.8 120.0 L769.0 112.5 L769.4 156.5 L769.6 156.0 L769.8 166.1 L770.1 191.5 L770.4 184.0 L770.5 172.7 L770.9 206.3 L771.2 194.0 L771.3 187.4 L771.6 210.0 L771.6 215.2 L771.8 180.0 L772.0 221.0 L772.0 186.5 L772.2 170.0 L772.4 198.7 L772.8 176.5 L772.8 206.0 L773.0 160.0 L773.1 199.1 L773.5 161.1 L773.6 210.0 L773.9 173.0 L774.0 186.0 L774.2 142.9 L774.4 160.0 L774.6 178.4 L775.0 151.0 L775.2 142.0 L775.4 183.2 L775.7 142.1 L776.0 150.0 L776.1 188.8 L776.2 200.0 L776.5 163.4 L776.5 165.0 L776.8 218.0 L776.9 218.2 L777.2 185.0 L777.2 173.3 L777.6 223.8 L777.6 210.0 L778.0 194.7 L778.0 200.0 L778.3 243.2 L778.4 230.0 L778.7 215.0 L778.7 200.1 L779.0 243.0 L779.1 240.0 L779.3 238.0" stroke="#f28d18" stroke-width="1.7"/>
<path d="M120.0 270.0 L120.4 265.6 L120.6 264.0 L120.8 266.9 L121.2 270.9 L121.4 276.0 L121.6 272.0 L122.0 257.4 L122.4 248.0 L122.8 249.2 L123.2 252.0 L123.6 257.5 L124.0 262.0 L124.4 256.8 L124.8 254.0 L125.2 254.3 L125.6 255.8 L126.0 258.0 L126.4 263.9 L126.8 271.0 L127.2 274.0 L127.6 276.0 L128.0 278.0 L128.4 276.2 L128.8 277.2 L129.2 276.0 L129.6 265.4 L130.0 256.0 L130.4 259.0 L130.8 262.0 L131.2 261.2 L131.6 257.3 L132.0 256.0 L132.4 253.3 L132.8 249.8 L133.2 248.0 L133.6 240.8 L134.0 234.0 L134.4 233.3 L134.8 231.0 L135.2 230.7 L135.6 230.0 L136.0 230.4 L136.4 230.7 L136.8 232.0 L137.2 225.5 L137.6 219.9 L138.0 216.0 L138.4 221.8 L138.8 228.0 L139.2 227.1 L139.6 228.9 L140.0 226.0 L140.4 229.2 L140.8 237.3 L141.0 240.0 L141.2 239.2 L141.6 237.8 L142.0 234.0 L142.4 231.3 L142.8 226.8 L143.0 226.0 L143.2 225.4 L143.6 224.8 L144.0 222.8 L144.4 222.0 L144.8 219.8 L145.2 214.1 L145.6 214.7 L146.0 210.0 L146.4 214.1 L146.8 215.0 L147.2 218.0 L147.6 217.9 L148.0 216.7 L148.4 216.0 L148.8 216.5 L149.2 218.8 L149.6 220.0 L150.0 222.3 L150.4 222.3 L150.8 224.0 L151.2 220.3 L151.6 217.3 L152.0 214.0 L152.4 213.8 L152.8 213.9 L153.2 212.0 L153.6 212.7 L154.0 215.2 L154.4 216.0 L154.8 214.9 L155.2 211.5 L155.6 212.0 L156.0 210.9 L156.4 210.5 L156.8 210.0 L157.2 208.3 L157.6 207.0 L158.0 205.0 L158.4 205.3 L158.8 209.7 L159.2 212.0 L159.6 215.3 L160.0 220.0 L160.4 219.2 L160.8 221.9 L161.2 222.0 L161.6 227.7 L162.0 232.0 L162.4 227.3 L162.8 224.8 L163.2 220.0 L163.6 220.3 L164.0 221.4 L164.4 222.0 L164.8 218.2 L165.2 218.3 L165.6 214.0 L166.0 212.0 L166.4 215.2 L166.8 216.0 L167.2 216.0 L167.6 212.6 L168.0 214.0 L168.4 217.8 L168.8 222.0 L169.2 226.9 L169.6 232.0 L170.0 236.2 L170.4 239.9 L170.8 242.0 L171.2 248.6 L171.6 256.0 L172.0 260.6 L172.4 268.0 L172.8 263.4 L173.2 257.2 L173.6 250.0 L174.0 252.2 L174.4 255.7 L174.8 258.0 L175.2 256.4 L175.6 254.6 L176.0 252.0 L176.4 255.5 L176.8 260.1 L177.2 262.0 L177.6 262.9 L178.0 268.4 L178.4 270.0 L178.8 265.7 L179.2 260.4 L179.6 256.0 L180.0 255.2 L180.4 249.7 L180.8 250.0 L181.2 254.5 L181.6 257.1 L182.0 260.0 L182.4 261.5 L182.8 265.8 L183.2 268.0 L183.6 271.0 L184.0 277.3 L184.4 278.0 L184.8 274.5 L185.2 267.8 L185.6 262.0 L186.0 261.9 L186.4 262.7 L186.8 264.0 L187.2 262.3 L187.6 260.8 L188.0 260.0 L188.4 261.1 L188.8 263.4 L189.2 266.0 L189.6 265.1 L190.0 264.1 L190.4 264.0 L190.8 265.3 L191.2 267.1 L191.6 270.0 L192.0 273.2 L192.4 269.9 L192.8 272.0 L193.2 273.0 L193.6 276.4 L194.0 278.0 L194.4 274.3 L194.8 271.8 L195.2 268.0 L195.6 264.8 L196.0 261.3 L196.4 256.0 L196.8 254.8 L197.2 251.0 L197.6 250.0 L198.0 252.4 L198.4 250.9 L198.8 254.0 L199.2 251.2 L199.6 248.2 L200.0 246.0 L200.4 242.9 L200.8 242.6 L201.2 240.0 L201.6 238.2 L202.0 237.7 L202.4 235.0 L202.8 234.5 L203.2 237.8 L203.6 238.0 L204.0 236.8 L204.4 234.8 L204.8 233.0 L205.2 230.6 L205.6 230.7 L206.0 230.0 L206.4 228.1 L206.8 227.3 L207.2 229.0 L207.6 233.6 L208.0 232.6 L208.4 233.0 L208.8 233.8 L209.2 230.6 L209.6 230.0 L210.0 230.0 L210.4 229.4 L210.8 228.0 L211.2 227.9 L211.6 226.7 L212.0 226.0 L212.4 229.1 L212.8 230.6 L213.2 236.0 L213.6 237.3 L214.0 237.8 L214.4 238.0 L214.8 237.5 L215.2 234.4 L215.6 233.0 L216.0 235.1 L216.4 233.2 L216.8 234.0 L217.2 236.7 L217.6 242.9 L218.0 246.0 L218.4 245.9 L218.8 245.4 L219.2 247.0 L219.6 246.1 L220.0 245.8 L220.4 244.0 L220.8 240.9 L221.2 237.8 L221.6 234.0 L222.0 234.8 L222.4 228.2 L222.8 224.0 L223.2 224.2 L223.6 219.3 L224.0 220.0 L224.4 220.0 L224.8 220.1 L225.2 219.0 L225.6 216.3 L226.0 213.5 L226.4 212.0 L226.8 211.1 L227.2 209.0 L227.6 208.0 L228.0 204.9 L228.4 203.0 L228.8 206.5 L229.2 209.0 L229.6 210.0 L230.0 210.0 L230.4 208.9 L230.8 209.0 L231.2 208.8 L231.6 208.5 L232.0 207.0 L232.4 208.6 L232.8 207.5 L233.2 210.0 L233.6 208.3 L234.0 207.7 L234.4 206.0 L234.8 204.6 L235.2 203.0 L235.6 200.0 L236.0 200.3 L236.4 199.0 L236.8 200.9 L237.2 204.3 L237.6 208.0 L238.0 207.4 L238.4 211.1 L238.8 210.0 L239.2 211.5 L239.6 213.2 L240.0 214.0 L240.4 214.7 L240.8 213.0 L241.2 213.0 L241.6 212.8 L242.0 214.6 L242.4 216.0 L242.8 217.2 L243.2 220.2 L243.6 220.0 L244.0 219.5 L244.4 216.2 L244.8 216.0 L245.2 220.7 L245.6 224.7 L246.0 228.0 L246.4 228.3 L246.8 230.6 L247.2 232.0 L247.6 229.5 L248.0 231.0 L248.4 230.0 L248.8 231.0 L249.2 231.3 L249.6 234.0 L250.0 232.6 L250.4 232.9 L250.8 232.0 L251.2 231.1 L251.6 231.6 L252.0 231.0 L252.4 230.2 L252.8 227.5 L253.2 227.0 L253.6 227.7 L254.0 231.1 L254.4 230.0 L254.8 231.1 L255.2 231.2 L255.6 233.0 L256.0 234.7 L256.4 235.0 L256.8 238.0 L257.2 241.8 L257.6 243.7 L258.0 246.0 L258.4 245.8 L258.8 244.2 L259.2 242.0 L259.6 243.1 L260.0 244.3 L260.4 244.0 L260.8 243.9 L261.2 242.7 L261.6 243.0 L262.0 244.3 L262.4 247.2 L262.8 250.0 L263.2 252.2 L263.6 261.2 L264.0 264.0 L264.4 260.3 L264.8 259.9 L265.2 258.0 L265.6 256.0 L266.0 254.6 L266.4 256.0 L266.8 255.3 L267.2 254.4 L267.6 254.0 L268.0 251.2 L268.4 249.2 L268.8 246.0 L269.2 243.4 L269.6 242.4 L270.0 240.0 L270.4 240.2 L270.8 239.0 L271.2 239.0 L271.6 239.7 L272.0 241.5 L272.4 242.0 L272.8 244.7 L273.2 247.5 L273.6 250.0 L274.0 249.6 L274.4 254.1 L274.8 256.0 L275.2 258.4 L275.6 260.0 L276.0 256.5 L276.4 253.7 L276.8 250.0 L277.2 249.2 L277.6 244.8 L278.0 242.0 L278.4 246.7 L278.8 249.2 L279.2 254.0 L279.6 251.8 L280.0 250.9 L280.4 250.0 L280.8 250.3 L281.2 252.7 L281.6 254.0 L282.0 251.4 L282.4 250.5 L282.8 249.0 L283.2 246.6 L283.6 245.3 L284.0 246.0 L284.4 244.0 L284.8 242.3 L285.2 242.0 L285.6 240.7 L286.0 240.1 L286.4 240.0 L286.8 238.0 L287.2 237.7 L287.6 235.0 L288.0 236.0 L288.4 235.1 L288.8 234.0 L289.2 234.6 L289.6 237.5 L290.0 237.0 L290.4 236.5 L290.8 239.0 L291.2 238.3 L291.6 241.9 L292.0 243.0 L292.4 244.0 L292.8 244.9 L293.2 246.0 L293.6 247.4 L294.0 247.0 L294.4 250.0 L294.8 248.2 L295.2 249.9 L295.6 248.0 L296.0 248.0 L296.4 245.3 L296.8 245.0 L297.2 248.6 L297.6 247.3 L298.0 250.0 L298.4 249.8 L298.8 251.0 L299.2 251.0 L299.6 249.5 L300.0 249.8 L300.4 250.0 L300.8 251.8 L301.2 253.6 L301.6 256.0 L302.0 259.5 L302.4 261.9 L302.8 264.0 L303.2 266.2 L303.6 270.0 L304.0 274.0 L304.4 275.5 L304.8 276.6 L305.2 278.0 L305.6 276.5 L306.0 277.1 L306.4 276.0 L306.8 277.5 L307.2 276.7 L307.6 278.0 L308.0 277.8 L308.4 274.4 L308.8 275.0 L309.2 274.4 L309.6 277.5 L310.0 278.0 L310.4 275.2 L310.8 273.0 L311.2 272.0 L311.6 270.7 L312.0 270.0 L312.4 270.7 L312.8 273.0 L313.2 274.0 L313.6 272.2 L314.0 273.0 L314.4 273.0 L314.8 277.8 L315.2 276.4 L315.6 278.0 L316.0 278.1 L316.4 282.6 L316.8 284.0 L316.9 290.0 L317.0 306.0 L317.2 308.3 L317.6 312.8 L318.0 315.0 L318.4 323.8 L318.6 328.0 L318.8 323.7 L319.2 318.6 L319.6 310.0 L320.0 310.7 L320.4 308.2 L320.8 310.0 L321.2 314.1 L321.6 316.4 L322.0 320.0 L322.4 320.4 L322.8 318.3 L323.2 318.0 L323.6 318.1 L324.0 316.9 L324.4 316.0 L324.8 313.9 L325.2 310.6 L325.6 308.0 L326.0 310.9 L326.4 314.7 L326.8 318.0 L327.2 317.3 L327.6 315.8 L328.0 314.0 L328.4 312.9 L328.8 309.1 L329.2 306.0 L329.6 304.3 L330.0 303.4 L330.4 299.0 L330.8 301.4 L331.2 304.2 L331.6 306.0 L332.0 304.1 L332.4 303.4 L332.8 302.0 L333.2 302.3 L333.6 299.6 L334.0 298.0 L334.4 301.5 L334.8 300.9 L335.2 304.0 L335.6 301.6 L336.0 302.3 L336.4 301.0 L336.8 299.0 L337.2 302.3 L337.6 299.0 L338.0 299.2 L338.4 295.8 L338.8 296.0 L339.2 296.8 L339.6 297.4 L340.0 299.0 L340.4 302.4 L340.8 304.9 L341.2 308.0 L341.6 310.3 L342.0 312.1 L342.4 312.0 L342.8 311.1 L343.2 309.5 L343.6 310.0 L344.0 312.2 L344.4 313.2 L344.8 315.0 L345.2 316.5 L345.6 315.5 L346.0 316.0 L346.4 317.2 L346.8 317.0 L347.2 317.0 L347.6 318.5 L348.0 319.9 L348.4 322.0 L348.8 317.4 L349.2 313.9 L349.6 306.0 L350.0 310.8 L350.4 314.0 L350.8 315.2 L351.2 317.4 L351.6 318.0 L352.0 319.8 L352.4 320.1 L352.8 323.0 L353.2 322.0 L353.6 321.9 L354.0 319.0 L354.4 319.7 L354.8 319.9 L355.2 322.0 L355.6 321.2 L356.0 321.2 L356.4 318.0 L356.8 319.6 L357.2 320.4 L357.6 320.0 L358.0 320.6 L358.4 318.3 L358.8 315.0 L359.2 317.0 L359.6 317.5 L360.0 319.0 L360.4 318.8 L360.8 318.2 L361.2 318.0 L361.6 319.5 L362.0 318.5 L362.4 320.0 L362.8 321.2 L363.2 319.5 L363.6 319.0 L364.0 319.6 L364.4 321.8 L364.8 322.0 L365.2 318.6 L365.6 318.5 L366.0 318.0 L366.4 316.0 L366.8 316.2 L367.2 314.0 L367.6 313.2 L368.0 314.8 L368.4 313.0 L368.8 311.9 L369.2 312.2 L369.6 311.0 L370.0 310.6 L370.4 312.8 L370.8 312.0 L371.2 317.7 L371.6 324.0 L372.0 331.5 L372.4 338.0 L372.8 335.5 L373.2 334.0 L373.6 332.6 L374.0 333.1 L374.4 333.0 L374.8 334.8 L375.2 333.3 L375.6 335.0 L376.0 334.8 L376.4 337.4 L376.8 339.0 L377.2 338.1 L377.6 334.6 L378.0 334.0 L378.4 333.1 L378.8 333.5 L379.2 333.0 L379.6 332.3 L380.0 332.6 L380.4 332.0 L380.8 333.5 L381.2 332.7 L381.6 333.0 L382.0 332.3 L382.4 332.4 L382.8 331.0 L383.2 331.3 L383.6 330.7 L384.0 332.0 L384.4 329.0 L384.8 326.9 L385.2 326.0 L385.6 331.4 L386.0 333.0 L386.4 333.3 L386.8 334.2 L387.2 334.0 L387.6 334.4 L388.0 332.4 L388.4 333.0 L388.8 334.3 L389.2 333.8 L389.6 335.0 L390.0 332.6 L390.4 334.1 L390.8 334.0 L391.2 333.3 L391.6 334.3 L392.0 335.0 L392.4 335.0 L392.8 336.6 L393.2 334.0 L393.6 332.8 L394.0 332.5 L394.4 332.0 L394.8 331.0 L395.2 329.5 L395.6 328.0 L396.0 323.8 L396.4 320.0 L396.8 314.9 L397.2 312.0 L397.6 311.5 L398.0 313.0 L398.4 309.8 L398.8 305.8 L399.2 304.0 L399.6 302.7 L400.0 301.4 L400.4 302.0 L400.8 302.5 L401.2 299.2 L401.6 300.0 L402.0 301.6 L402.4 298.8 L402.8 299.0 L403.2 298.6 L403.6 299.2 L404.0 301.0 L404.4 303.1 L404.8 304.7 L405.2 305.0 L405.6 304.5 L406.0 306.0 L406.4 306.0 L406.8 307.4 L407.2 309.0 L407.6 306.4 L408.0 304.5 L408.4 302.0 L408.8 300.8 L409.2 296.1 L409.6 296.0 L410.0 294.8 L410.4 298.2 L410.8 299.0 L411.2 299.9 L411.6 301.7 L412.0 302.0 L412.4 299.6 L412.8 299.7 L413.2 300.0 L413.6 302.9 L414.0 301.4 L414.4 304.0 L414.8 305.0 L415.2 304.5 L415.6 306.0 L416.0 309.3 L416.4 312.0 L416.8 317.0 L417.2 312.7 L417.6 306.0 L418.0 298.1 L418.4 294.0 L418.8 290.8 L419.2 289.1 L419.6 288.0 L420.0 288.5 L420.4 287.0 L420.8 286.0 L421.2 286.0 L421.6 284.6 L422.0 284.0 L422.4 285.2 L422.8 286.5 L423.2 287.0 L423.6 287.2 L424.0 284.6 L424.4 283.0 L424.8 281.9 L425.2 284.8 L425.6 284.0 L426.0 283.8 L426.4 282.2 L426.8 283.0 L427.2 282.5 L427.6 281.4 L428.0 282.0 L428.4 282.6 L428.8 278.7 L429.2 275.5 L429.6 276.0 L430.0 276.6 L430.4 275.7 L430.8 278.1 L431.0 277.0 L431.2 277.6 L431.6 276.5 L432.0 278.6 L432.4 280.0 L432.8 286.0 L433.2 284.2 L433.6 283.9 L434.0 284.0 L434.4 282.0 L434.8 279.3 L435.2 280.0 L435.6 279.9 L436.0 278.5 L436.4 279.0 L436.8 278.4 L437.2 280.3 L437.6 281.6 L438.0 280.0 L438.4 280.7 L438.8 284.5 L439.2 284.0 L439.6 283.3 L440.0 287.2 L440.4 288.0 L440.8 287.1 L441.2 287.3 L441.6 287.0 L442.0 286.7 L442.4 287.7 L442.8 289.0 L443.2 288.4 L443.6 288.0 L444.0 288.0 L444.4 288.7 L444.8 291.0 L445.2 289.0 L445.6 287.7 L446.0 287.5 L446.4 287.0 L446.8 286.3 L447.2 286.5 L447.6 290.0 L448.0 290.7 L448.4 287.3 L448.8 288.0 L449.2 288.3 L449.6 290.0 L450.0 291.0 L450.4 291.6 L450.8 290.6 L451.2 290.0 L451.6 292.9 L452.0 291.8 L452.4 293.0 L452.8 292.2 L453.2 295.0 L453.6 292.6 L454.0 290.0 L454.4 286.8 L454.8 282.5 L455.2 280.0 L455.6 278.0 L456.0 276.1 L456.4 275.0 L456.8 276.4 L457.2 273.7 L457.6 274.0 L458.0 272.9 L458.4 274.8 L458.8 272.9 L459.2 275.0 L459.6 275.2 L460.0 274.9 L460.4 273.4 L460.8 274.0 L461.2 273.2 L461.6 272.9 L462.0 274.9 L462.4 273.0 L462.8 274.1 L463.2 273.3 L463.6 274.0 L464.0 276.0 L464.4 276.2 L464.8 276.5 L465.2 276.0 L465.6 277.0 L466.0 277.5 L466.4 277.3 L466.8 278.8 L467.2 278.0 L467.6 278.7 L468.0 278.4 L468.4 278.9 L468.8 279.0 L469.2 277.9 L469.6 279.4 L470.0 278.6 L470.4 278.0 L470.8 277.8 L471.2 278.6 L471.6 278.2 L472.0 279.0 L472.4 281.2 L472.8 278.0 L473.2 278.8 L473.6 278.0 L474.0 278.9 L474.4 278.2 L474.8 279.5 L475.2 280.0 L475.6 281.9 L476.0 284.7 L476.4 287.0 L476.8 289.0 L477.2 290.4 L477.6 291.1 L478.0 291.0 L478.4 290.3 L478.8 289.8 L479.2 290.0 L479.6 289.7 L480.0 289.8 L480.4 291.0 L480.8 289.6 L481.2 292.3 L481.6 292.0 L482.0 291.6 L482.4 291.1 L482.8 291.0 L483.2 289.7 L483.6 290.2 L484.0 292.0 L484.4 290.2 L484.8 293.2 L485.2 294.0 L485.6 293.7 L486.0 292.6 L486.4 291.0 L486.8 290.6 L487.2 289.3 L487.6 290.0 L488.0 289.3 L488.4 288.7 L488.8 288.0 L489.2 289.0 L489.6 289.4 L490.0 289.0 L490.4 289.1 L490.8 289.6 L491.2 290.0 L491.6 290.0 L492.0 289.1 L492.4 288.0 L492.8 288.2 L493.2 286.5 L493.6 289.0 L494.0 287.7 L494.4 288.5 L494.8 287.0 L495.2 286.8 L495.6 287.3 L496.0 286.0 L496.4 286.3 L496.8 287.4 L497.2 288.0 L497.6 288.5 L498.0 288.0 L498.4 287.0 L498.8 286.4 L499.2 286.1 L499.6 284.0 L500.0 281.3 L500.4 276.0 L500.8 274.1 L501.2 267.7 L501.6 266.0 L502.0 264.8 L502.4 264.3 L502.8 264.0 L503.2 264.0 L503.6 263.0 L504.0 265.0 L504.4 265.3 L504.8 262.0 L505.2 262.0 L505.6 261.1 L506.0 257.6 L506.4 259.0 L506.8 258.8 L507.2 259.4 L507.6 260.0 L508.0 257.7 L508.4 258.1 L508.8 256.0 L509.2 259.4 L509.6 257.1 L510.0 259.0 L510.4 257.1 L510.8 258.8 L511.2 256.0 L511.6 256.9 L512.0 256.4 L512.4 257.0 L512.8 255.1 L513.2 256.4 L513.6 255.0 L514.0 254.9 L514.4 255.9 L514.8 254.0 L515.2 251.8 L515.6 251.2 L516.0 250.0 L516.4 248.4 L516.8 247.1 L517.2 246.0 L517.6 245.4 L518.0 243.5 L518.4 241.0 L518.8 241.4 L519.2 242.9 L519.6 244.0 L520.0 244.4 L520.4 246.2 L520.8 246.0 L521.2 244.8 L521.6 242.9 L522.0 243.0 L522.4 243.0 L522.8 243.6 L523.2 244.0 L523.6 244.3 L524.0 243.9 L524.4 242.0 L524.8 243.6 L525.2 243.0 L525.6 243.0 L526.0 241.5 L526.4 241.6 L526.8 240.0 L527.2 239.1 L527.6 238.0 L528.0 238.0 L528.4 239.3 L528.8 240.4 L529.2 241.0 L529.6 241.2 L530.0 238.8 L530.4 239.0 L530.8 234.3 L531.2 233.0 L531.6 237.0 L532.0 240.0 L532.4 239.7 L532.8 242.3 L533.2 242.0 L533.6 242.2 L534.0 244.1 L534.4 246.0 L534.8 245.5 L535.2 250.7 L535.6 250.0 L536.0 250.5 L536.4 252.0 L536.8 249.9 L537.2 248.0 L537.6 246.1 L538.0 245.1 L538.4 244.0 L538.8 244.5 L539.2 243.4 L539.6 243.0 L540.0 242.6 L540.4 243.5 L540.8 242.0 L541.2 239.3 L541.6 240.4 L542.0 238.0 L542.4 236.6 L542.8 232.0 L543.2 228.6 L543.6 228.0 L544.0 226.8 L544.4 225.0 L544.8 224.0 L545.2 223.5 L545.6 226.0 L546.0 225.5 L546.4 227.2 L546.8 227.0 L547.2 226.7 L547.6 224.6 L548.0 224.0 L548.4 220.1 L548.8 218.0 L549.2 214.5 L549.6 212.0 L550.0 209.3 L550.4 208.0 L550.8 204.4 L551.2 202.0 L551.6 197.6 L552.0 198.0 L552.4 197.1 L552.8 196.5 L553.2 196.0 L553.6 196.8 L554.0 194.0 L554.4 192.0 L554.8 192.8 L555.2 194.0 L555.6 198.1 L556.0 202.0 L556.4 203.0 L556.8 202.6 L557.2 204.0 L557.6 200.6 L558.0 200.6 L558.4 200.0 L558.8 198.4 L559.2 197.4 L559.6 196.0 L560.0 194.9 L560.4 194.4 L560.8 195.0 L561.2 196.0 L561.6 197.7 L562.0 199.0 L562.4 198.5 L562.8 196.7 L563.2 196.0 L563.6 195.7 L564.0 193.6 L564.4 194.0 L564.8 196.1 L565.2 196.6 L565.6 198.0 L566.0 197.9 L566.4 200.4 L566.8 202.0 L567.2 203.4 L567.6 203.6 L568.0 206.0 L568.4 206.0 L568.8 204.3 L569.2 204.0 L569.6 205.4 L570.0 205.0 L570.4 207.0 L570.8 208.3 L571.2 209.7 L571.6 210.0 L572.0 211.2 L572.4 213.1 L572.8 215.0 L573.2 212.4 L573.6 211.3 L574.0 209.0 L574.4 207.7 L574.8 206.8 L575.2 205.0 L575.6 205.6 L576.0 205.0 L576.4 207.0 L576.8 204.3 L577.2 203.9 L577.6 203.0 L578.0 202.4 L578.4 203.2 L578.8 200.0 L579.2 199.8 L579.6 197.4 L580.0 197.0 L580.4 195.6 L580.8 198.8 L581.2 199.0 L581.6 198.0 L582.0 195.8 L582.4 196.0 L582.8 197.5 L583.2 197.3 L583.6 198.0 L584.0 197.2 L584.4 195.4 L584.8 197.0 L585.2 197.3 L585.6 195.7 L586.0 195.0 L586.4 195.1 L586.8 194.7 L587.2 196.0 L587.6 196.3 L588.0 198.6 L588.4 198.0 L588.8 199.5 L589.2 202.0 L589.6 201.0 L590.0 202.7 L590.4 202.7 L590.8 203.0 L591.2 204.9 L591.6 205.1 L592.0 206.0 L592.4 205.9 L592.8 208.0 L593.2 210.0 L593.6 210.0 L594.0 208.4 L594.4 209.0 L594.8 208.1 L595.2 207.1 L595.6 208.0 L596.0 212.3 L596.4 212.0 L596.8 216.0 L597.2 216.3 L597.6 217.8 L598.0 220.0 L598.4 219.6 L598.8 218.4 L599.2 216.0 L599.6 214.1 L600.0 213.9 L600.4 212.0 L600.8 208.4 L601.2 206.7 L601.6 204.0 L602.0 205.6 L602.4 202.9 L602.8 201.0 L603.2 200.6 L603.6 199.0 L604.0 200.0 L604.4 199.0 L604.8 197.3 L605.2 198.0 L605.6 196.8 L606.0 200.6 L606.4 201.0 L606.8 202.9 L607.2 203.9 L607.6 205.0 L608.0 208.5 L608.4 210.0 L608.8 216.8 L609.2 227.0 L609.6 220.9 L610.0 212.0 L610.4 209.9 L610.8 210.4 L611.2 209.0 L611.6 210.5 L612.0 212.1 L612.4 212.0 L612.8 213.3 L613.2 211.0 L613.6 210.0 L614.0 209.0 L614.4 207.6 L614.8 208.0 L615.2 207.3 L615.6 205.2 L616.0 205.0 L616.4 205.0 L616.8 207.5 L617.2 209.0 L617.6 211.0 L618.0 211.4 L618.4 213.0 L618.8 212.3 L619.2 213.8 L619.6 214.0 L620.0 215.4 L620.4 217.8 L620.8 222.0 L621.2 221.5 L621.6 218.2 L622.0 216.0 L622.4 217.3 L622.8 213.2 L623.2 214.0 L623.6 213.7 L624.0 211.2 L624.4 210.0 L624.8 212.0 L625.2 208.5 L625.6 208.0 L626.0 206.2 L626.4 205.8 L626.8 204.0 L627.2 203.5 L627.6 202.2 L628.0 202.0 L628.4 203.9 L628.8 204.7 L629.2 205.0 L629.6 206.2 L630.0 206.1 L630.4 206.0 L630.8 207.0 L631.2 208.6 L631.6 211.0 L632.0 210.6 L632.4 208.1 L632.8 208.0 L633.2 208.4 L633.6 205.4 L634.0 204.0 L634.4 202.5 L634.8 203.7 L635.2 202.0 L635.6 201.0 L636.0 201.2 L636.4 199.0 L636.8 199.9 L637.2 202.1 L637.6 201.0 L638.0 199.3 L638.4 196.1 L638.8 197.0 L639.2 195.5 L639.6 195.4 L640.0 197.0 L640.4 196.3 L640.8 196.1 L641.2 193.0 L641.6 191.5 L642.0 189.0 L642.4 189.0 L642.8 187.0 L643.2 184.1 L643.6 181.0 L644.0 177.6 L644.4 175.4 L644.8 172.0 L645.2 171.0 L645.6 168.8 L646.0 169.0 L646.4 170.0 L646.8 169.2 L647.2 170.0 L647.6 167.1 L648.0 165.8 L648.4 164.0 L648.8 166.6 L649.2 168.0 L649.6 167.0 L650.0 167.1 L650.4 163.8 L650.8 163.0 L651.2 162.6 L651.6 164.7 L652.0 165.0 L652.4 163.2 L652.8 161.8 L653.2 160.0 L653.6 160.2 L654.0 161.8 L654.4 164.0 L654.8 161.9 L655.2 162.8 L655.6 161.0 L656.0 161.7 L656.4 159.7 L656.8 160.0 L657.2 159.2 L657.6 158.0 L658.0 156.0 L658.4 157.3 L658.8 160.0 L659.2 162.0 L659.6 164.1 L660.0 163.7 L660.4 166.0 L660.8 166.2 L661.2 163.8 L661.6 163.0 L662.0 164.4 L662.4 165.4 L662.8 167.0 L663.2 164.5 L663.6 165.3 L664.0 164.0 L664.4 163.0 L664.8 161.6 L665.2 161.0 L665.6 162.4 L666.0 164.8 L666.4 166.0 L666.8 166.9 L667.2 167.5 L667.6 169.0 L668.0 167.4 L668.4 166.4 L668.8 164.0 L669.2 162.0 L669.6 159.2 L670.0 158.0 L670.4 158.2 L670.8 156.4 L671.2 156.0 L671.6 156.9 L672.0 156.5 L672.4 157.0 L672.8 156.7 L673.2 157.1 L673.6 159.0 L674.0 157.4 L674.4 157.4 L674.8 157.0 L675.2 156.1 L675.6 160.0 L676.0 161.0 L676.4 163.1 L676.8 162.8 L677.2 164.0 L677.6 162.6 L678.0 161.7 L678.4 163.0 L678.8 163.9 L679.2 164.7 L679.6 165.0 L680.0 164.7 L680.4 165.0 L680.8 164.0 L681.2 164.0 L681.6 165.1 L682.0 166.0 L682.4 165.9 L682.8 165.1 L683.2 165.0 L683.6 166.5 L684.0 167.5 L684.4 168.0 L684.8 171.1 L685.2 173.7 L685.6 178.0 L686.0 173.3 L686.4 170.0 L686.8 170.1 L687.2 168.0 L687.6 170.8 L688.0 176.0 L688.4 178.1 L688.8 179.0 L689.2 182.0 L689.6 185.0 L690.0 182.7 L690.4 184.0 L690.8 183.3 L691.2 180.4 L691.6 180.0 L692.0 182.5 L692.4 177.3 L692.8 178.0 L693.2 177.4 L693.6 174.7 L694.0 175.0 L694.4 175.5 L694.8 173.1 L695.2 174.0 L695.6 174.6 L696.0 174.4 L696.4 177.0 L696.8 177.3 L697.2 178.3 L697.6 179.0 L698.0 179.7 L698.4 174.7 L698.8 176.0 L699.2 180.5 L699.6 184.0 L700.0 188.0 L700.4 184.7 L700.8 182.5 L701.2 180.0 L701.6 179.7 L702.0 178.6 L702.4 178.0 L702.8 178.3 L703.2 177.9 L703.6 179.0 L704.0 176.9 L704.4 176.2 L704.8 174.0 L705.2 171.1 L705.6 169.5 L706.0 168.0 L706.4 167.7 L706.8 167.7 L707.2 167.0 L707.6 167.1 L708.0 166.1 L708.4 166.0 L708.8 163.3 L709.2 165.4 L709.6 164.0 L710.0 164.7 L710.4 164.5 L710.8 163.0 L711.2 162.0 L711.6 161.2 L712.0 159.0 L712.4 158.4 L712.8 157.2 L713.2 158.0 L713.6 158.2 L714.0 158.4 L714.4 159.0 L714.8 159.0 L715.2 157.8 L715.6 156.0 L716.0 154.1 L716.4 152.9 L716.8 152.0 L717.2 152.3 L717.6 152.7 L718.0 153.0 L718.4 155.7 L718.8 155.2 L719.2 157.0 L719.6 158.6 L720.0 156.3 L720.4 158.0 L720.8 156.3 L721.2 157.6 L721.6 155.0 L722.0 155.7 L722.4 155.7 L722.8 156.0 L723.2 155.6 L723.6 153.8 L724.0 153.0 L724.4 154.4 L724.8 155.9 L725.2 157.0 L725.6 156.5 L726.0 156.0 L726.4 155.0 L726.8 155.4 L727.2 157.3 L727.6 158.0 L728.0 157.9 L728.4 159.9 L728.8 160.0 L729.2 158.5 L729.6 157.6 L730.0 156.0 L730.4 155.6 L730.8 153.9 L731.2 154.0 L731.6 153.1 L732.0 153.2 L732.4 153.0 L732.8 153.1 L733.2 153.2 L733.6 152.0 L734.0 150.6 L734.4 148.6 L734.8 148.0 L735.2 146.6 L735.6 144.6 L736.0 143.0 L736.4 144.4 L736.8 145.5 L737.2 145.0 L737.6 146.6 L738.0 142.7 L738.4 144.0 L738.8 144.2 L739.2 145.2 L739.6 146.0 L740.0 146.4 L740.4 146.0 L740.8 145.0 L741.2 145.7 L741.6 147.1 L742.0 147.0 L742.4 147.1 L742.8 147.9 L743.2 149.0 L743.6 148.6 L744.0 146.6 L744.4 147.0 L744.8 147.9 L745.2 144.9 L745.6 145.0 L746.0 142.9 L746.4 143.3 L746.8 142.0 L747.2 141.1 L747.6 143.6 L748.0 145.0 L748.4 145.5 L748.8 147.6 L749.2 147.0 L749.6 150.7 L750.0 148.5 L750.4 149.0 L750.8 148.0 L751.2 149.9 L751.6 150.0 L752.0 151.3 L752.4 150.4 L752.8 152.0 L753.2 153.0 L753.6 154.9 L754.0 154.0 L754.4 154.1 L754.8 152.5 L755.2 153.0 L755.6 151.8 L756.0 150.0 L756.4 151.0 L756.8 149.9 L757.2 149.1 L757.6 149.0 L758.0 150.0 L758.4 146.8 L758.8 148.0 L759.2 146.1 L759.6 147.5 L760.0 147.0 L760.4 147.9 L760.8 147.1 L761.2 148.0 L761.6 148.8 L762.0 150.0 L762.4 150.0 L762.8 151.4 L763.2 151.7 L763.6 152.0 L764.0 151.5 L764.4 148.4 L764.8 149.0 L765.2 147.8 L765.6 145.1 L766.0 143.0 L766.4 141.2 L766.8 140.6 L767.2 140.0 L767.6 140.0 L768.0 140.1 L768.4 141.0 L768.8 142.5 L769.2 143.9 L769.6 146.0 L770.0 146.2 L770.4 151.5 L770.8 151.0 L771.2 152.0 L771.6 154.5 L772.0 153.0 L772.4 152.4 L772.8 153.9 L773.2 152.0 L773.6 151.5 L774.0 152.9 L774.4 151.0 L774.8 150.9 L775.2 149.7 L775.6 148.0 L776.0 149.8 L776.4 152.2 L776.8 154.0 L777.2 156.0 L777.6 153.3 L778.0 156.0 L778.4 157.0 L778.8 158.1 L779.2 161.0" stroke="#000" stroke-width="2.4"/>
</g>
<line x1="119.3" x2="119.3" y1="96" y2="383" stroke="#fbd9b8" stroke-width="1"/>
<line x1="780.5" x2="780.5" y1="94.5" y2="382.6" stroke="#8a8a8a" stroke-width="1"/>
<g stroke="#ececec" stroke-width="0.8"><line x1="163.9" x2="163.9" y1="383.5" y2="390"/><line x1="209.8" x2="209.8" y1="383.5" y2="390"/><line x1="255.3" x2="255.3" y1="383.5" y2="390"/><line x1="300.1" x2="300.1" y1="383.5" y2="390"/><line x1="345.9" x2="345.9" y1="383.5" y2="390"/><line x1="391.5" x2="391.5" y1="383.5" y2="390"/><line x1="436.2" x2="436.2" y1="383.5" y2="390"/><line x1="482.1" x2="482.1" y1="383.5" y2="390"/><line x1="527.6" x2="527.6" y1="383.5" y2="390"/><line x1="572.8" x2="572.8" y1="383.5" y2="390"/><line x1="618.7" x2="618.7" y1="383.5" y2="390"/><line x1="664.2" x2="664.2" y1="383.5" y2="390"/><line x1="709.0" x2="709.0" y1="383.5" y2="390"/><line x1="754.9" x2="754.9" y1="383.5" y2="390"/></g>
<g font-size="8.35" fill="#4a4a4a" text-anchor="middle"><text x="163.9" y="400.3">May '21</text><text x="209.8" y="400.3">Sep '21</text><text x="255.3" y="400.3">Jan '22</text><text x="300.1" y="400.3">May '22</text><text x="345.9" y="400.3">Sep '22</text><text x="391.5" y="400.3">Jan '23</text><text x="436.2" y="400.3">May '23</text><text x="482.1" y="400.3">Sep '23</text><text x="527.6" y="400.3">Jan '24</text><text x="572.8" y="400.3">May '24</text><text x="618.7" y="400.3">Sep '24</text><text x="664.2" y="400.3">Jan '25</text><text x="709.0" y="400.3">May '25</text><text x="754.9" y="400.3">Sep '25</text></g>
<g font-size="7.9" fill="#4a4a4a" text-anchor="end"><text x="109" y="366.9">45%</text><text x="109" y="343.7">50%</text><text x="109" y="320.5">55%</text><text x="109" y="297.3">60%</text><text x="109" y="274.2">65%</text><text x="109" y="251.0">70%</text><text x="109" y="227.8">75%</text><text x="109" y="204.6">80%</text><text x="109" y="181.4">85%</text><text x="109" y="158.3">90%</text><text x="109" y="135.1">95%</text><text x="109" y="111.9">100%</text></g>
<g font-size="7.9" fill="#4a4a4a"><text x="790.3" y="98.5">$200k</text><text x="790.3" y="164.9">$100k</text><text x="790.3" y="199.1">$70k</text><text x="790.3" y="231.3">$50k</text><text x="790.3" y="280.3">$30k</text><text x="790.3" y="319.1">$20k</text><text x="790.3" y="385.5">$10k</text></g>
<text x="51.4" y="33.9" font-size="16.2" word-spacing="0.7" fill="#1a1a1a">BTC: Percent Supply in Profit</text>
<circle cx="58" cy="57" r="2.15" fill="#f28d18"/>
<text x="62.7" y="59.3" font-size="6.6" letter-spacing="-0.17" fill="#222">BTC: Percent Supply in Profit</text>
<circle cx="158.4" cy="57" r="2.15" fill="#000"/>
<text x="162.7" y="59.3" font-size="6.6" letter-spacing="-0.17" fill="#222">BTC: Price [USD]</text>
<text x="51.6" y="450" font-size="10.6" fill="#737373">© 2025 Glassnode. All Rights Reserved.</text>
<clipPath id="g"><rect x="730" y="425" width="140" height="29.3"/></clipPath>
<g clip-path="url(#g)"><text transform="scale(1.13,1)" x="657.7 669.6 673.7 685.4 694.1 703.9 715.3 727.3 737.9" y="452.7" font-size="20.5" fill="#1b1b1b" stroke="#1b1b1b" stroke-width="0.45">glassnode</text></g>
<g fill="none" stroke="#1a3bd1" stroke-width="1.9" stroke-linecap="round" stroke-linejoin="round">
<path d="M493.4 438.3 A9 9 0 1 0 498.9 448.3"/>
<path d="M482.2 453.5 L479.9 456.1"/>
<path d="M485.3 448 L488.7 444.6 L492.4 448.7 L499 441.4"/>
<path d="M496.8 440.3 L501 439.4 L500.4 443.4 Z" fill="#1a3bd1" stroke-width="1"/>
</g>
</svg>
<div class="ib">ایران بروکر</div>
</body></html>
